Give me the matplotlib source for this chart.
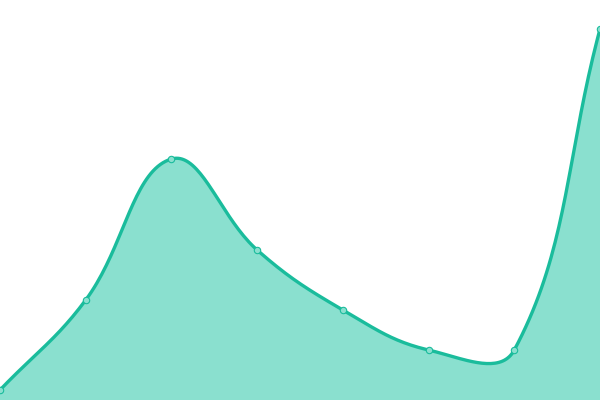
import numpy as np
import matplotlib
matplotlib.use('Agg')
import matplotlib.pyplot as plt

# data
labels = ['1', '2', '3', '4', '5', '6', '7', '8']
values = [10, 100, 241, 150, 90, 50, 50, 371]

LINE = '#1abc9c'
FILL = '#8ae0cf'

# spline like chart.js (tension 0.4), worked out in pixel space
def spline_points(xs, ys, sx, sy, tension=0.4):
    px = np.array(xs, float) * sx
    py = np.array(ys, float) * sy
    n = len(px)
    out_x, out_y = [], []
    ctrl = []
    for i in range(n):
        p = np.array([px[max(i - 1, 0)], py[max(i - 1, 0)]])
        c = np.array([px[i], py[i]])
        q = np.array([px[min(i + 1, n - 1)], py[min(i + 1, n - 1)]])
        d01 = np.hypot(*(c - p))
        d12 = np.hypot(*(q - c))
        s01 = d01 / (d01 + d12) if d01 + d12 else 0
        s12 = d12 / (d01 + d12) if d01 + d12 else 0
        fa = tension * s01
        fb = tension * s12
        ctrl.append((c - fa * (q - p), c + fb * (q - p)))
    t = np.linspace(0, 1, 40)
    for i in range(n - 1):
        p0 = np.array([px[i], py[i]])
        p1 = ctrl[i][1]
        p2 = ctrl[i + 1][0]
        p3 = np.array([px[i + 1], py[i + 1]])
        seg = ((1 - t) ** 3)[:, None] * p0 + (3 * (1 - t) ** 2 * t)[:, None] * p1 \
            + (3 * (1 - t) * t ** 2)[:, None] * p2 + (t ** 3)[:, None] * p3
        out_x.extend(seg[:, 0] / sx)
        out_y.extend(seg[:, 1] / sy)
    return np.array(out_x), np.array(out_y)

x = np.arange(len(values))
fig = plt.figure(figsize=(6, 4), dpi=100)
ax = fig.add_axes([0, 0, 1, 1])
ax.set_xlim(0, len(values) - 1)
ax.set_ylim(0, 400)

cx, cy = spline_points(x, values, 600 / (len(values) - 1), 1.0)
ax.fill_between(cx, cy, 0, color=FILL, linewidth=0)
ax.plot(cx, cy, color=LINE, linewidth=2.4, solid_capstyle='round')
ax.plot(x, values, 'o', markersize=4.6, markerfacecolor=FILL,
        markeredgecolor=LINE, markeredgewidth=0.8)
ax.axis('off')

fig.savefig('out.png', dpi=100)
